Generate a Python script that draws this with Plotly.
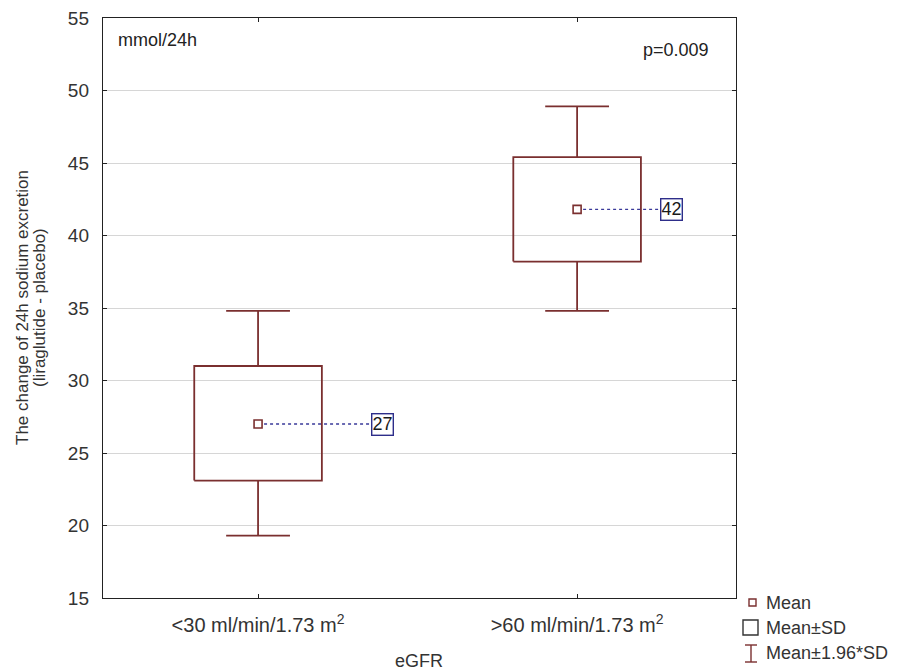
import plotly.graph_objects as go

# ---- data ----
categories = ["&lt;30 ml/min/1.73 m<sup>2</sup>", "&gt;60 ml/min/1.73 m<sup>2</sup>"]
mean_vals = [27.0, 41.8]
sd_low = [23.1, 38.2]
sd_high = [31.0, 45.4]
ci_low = [19.3, 34.8]
ci_high = [34.8, 48.9]
mean_labels = ["27", "42"]
y_ticks = [15, 20, 25, 30, 35, 40, 45, 50, 55]

# ---- style constants ----
BOX_COL = "#7a2f2f"
NAVY = "#2e2e8a"
DASH_COL = "#3a3a9a"
FONT = "Liberation Sans, Arial, sans-serif"
box_half = 0.2
cap_half = 0.1
label_offset = [0.355, 0.26]

# page offset (browser body margin)
OFF = 8
FIG_W, FIG_H = 902 - OFF, 670 - OFF
PL, PR, PT, PB = 103, 736, 18, 598   # plot area in page pixels

fig = go.Figure()
xpos = list(range(len(categories)))

for i, x in enumerate(xpos):
    fig.add_trace(go.Scatter(
        x=[x, x, None, x, x, None, x - cap_half, x + cap_half, None, x - cap_half, x + cap_half],
        y=[sd_high[i], ci_high[i], None, sd_low[i], ci_low[i], None, ci_high[i], ci_high[i], None, ci_low[i], ci_low[i]],
        mode="lines", line=dict(color=BOX_COL, width=1.8), showlegend=False, hoverinfo="skip"))
    fig.add_trace(go.Scatter(
        x=[x - box_half, x + box_half, x + box_half, x - box_half, x - box_half],
        y=[sd_low[i], sd_low[i], sd_high[i], sd_high[i], sd_low[i]],
        mode="lines", line=dict(color=BOX_COL, width=1.8), showlegend=False, hoverinfo="skip"))
    fig.add_trace(go.Scatter(
        x=[x, x + label_offset[i]], y=[mean_vals[i], mean_vals[i]],
        mode="lines", line=dict(color=DASH_COL, width=1.3, dash="3px,3px"), showlegend=False, hoverinfo="skip"))
    fig.add_annotation(x=x + label_offset[i], y=mean_vals[i], xref="x", yref="y",
                       text=mean_labels[i], showarrow=False, xanchor="left",
                       font=dict(family=FONT, size=18, color="#1a1a1a"),
                       bordercolor=NAVY, borderwidth=1.4, borderpad=0, bgcolor="white")

fig.add_trace(go.Scatter(
    x=xpos, y=mean_vals, mode="markers",
    marker=dict(symbol="square", size=8, color="white", line=dict(color=BOX_COL, width=1.6)),
    showlegend=False, hoverinfo="skip"))

fig.update_layout(
    width=FIG_W, height=FIG_H,
    margin=dict(l=PL - OFF, r=FIG_W - (PR - OFF), t=PT - OFF, b=FIG_H - (PB - OFF)),
    plot_bgcolor="white", paper_bgcolor="white",
    font=dict(family=FONT, size=18, color="#333"),
    showlegend=False,
    xaxis=dict(range=[-0.486, 1.498], tickvals=xpos, ticktext=categories,
               showgrid=False, zeroline=False, showline=True, linecolor="#222", linewidth=1.4,
               mirror="ticks", ticks="inside", ticklen=4, tickcolor="#222",
               tickfont=dict(size=20, color="#333"), ticklabelstandoff=9,
               ticklabeloverflow="allow", automargin=False),
    yaxis=dict(range=[15, 55], tickvals=y_ticks, showgrid=True, gridcolor="#d6d6d6", gridwidth=1,
               zeroline=False, showline=True, linecolor="#222", linewidth=1.4,
               mirror="ticks", ticks="inside", ticklen=4, tickcolor="#222",
               tickfont=dict(size=19, color="#333"), ticklabelstandoff=9,
               ticklabeloverflow="allow", automargin=False),
)

W, H = float(PR - PL), float(PB - PT)
def px(xp):
    return (xp - PL) / W
def py(yp):
    return (PB - yp) / H

fig.add_annotation(x=px(116), y=py(40), xref="paper", yref="paper", text="mmol/24h",
                   showarrow=False, xanchor="left", yanchor="middle",
                   font=dict(family=FONT, size=18, color="#222"))
fig.add_annotation(x=px(711), y=py(50), xref="paper", yref="paper", text="p=0.009",
                   showarrow=False, xanchor="right", yanchor="middle",
                   font=dict(family=FONT, size=18, color="#222"))
fig.add_annotation(x=px(419), y=py(661), xref="paper", yref="paper", text="eGFR",
                   showarrow=False, xanchor="center", yanchor="middle",
                   font=dict(family=FONT, size=18, color="#333"))
fig.add_annotation(x=px(22), y=0.5, xref="paper", yref="paper",
                   text="The change of 24h sodium excretion",
                   showarrow=False, textangle=-90, xanchor="center", yanchor="middle",
                   font=dict(family=FONT, size=17, color="#333"))
fig.add_annotation(x=px(39), y=0.5, xref="paper", yref="paper",
                   text="(liraglutide - placebo)",
                   showarrow=False, textangle=-90, xanchor="center", yanchor="middle",
                   font=dict(family=FONT, size=17, color="#333"))

# manual legend
fig.add_shape(type="rect", xref="paper", yref="paper",
              x0=px(749), x1=px(756), y0=py(606), y1=py(599),
              line=dict(color=BOX_COL, width=1.4), fillcolor="white")
fig.add_shape(type="rect", xref="paper", yref="paper",
              x0=px(743), x1=px(758), y0=py(635), y1=py(620),
              line=dict(color="#333", width=1.4), fillcolor="white")
for seg in [(751, 645, 751, 662), (745, 645, 757, 645), (745, 662, 757, 662)]:
    fig.add_shape(type="line", xref="paper", yref="paper",
                  x0=px(seg[0]), y0=py(seg[1]), x1=px(seg[2]), y1=py(seg[3]),
                  line=dict(color=BOX_COL, width=1.4))
for txt, yy in [("Mean", 603), ("Mean±SD", 628), ("Mean±1.96*SD", 653)]:
    fig.add_annotation(x=px(764), y=py(yy), xref="paper", yref="paper", text=txt,
                       showarrow=False, xanchor="left", yanchor="middle",
                       font=dict(family=FONT, size=18, color="#333"))

fig.write_html("out.html")
